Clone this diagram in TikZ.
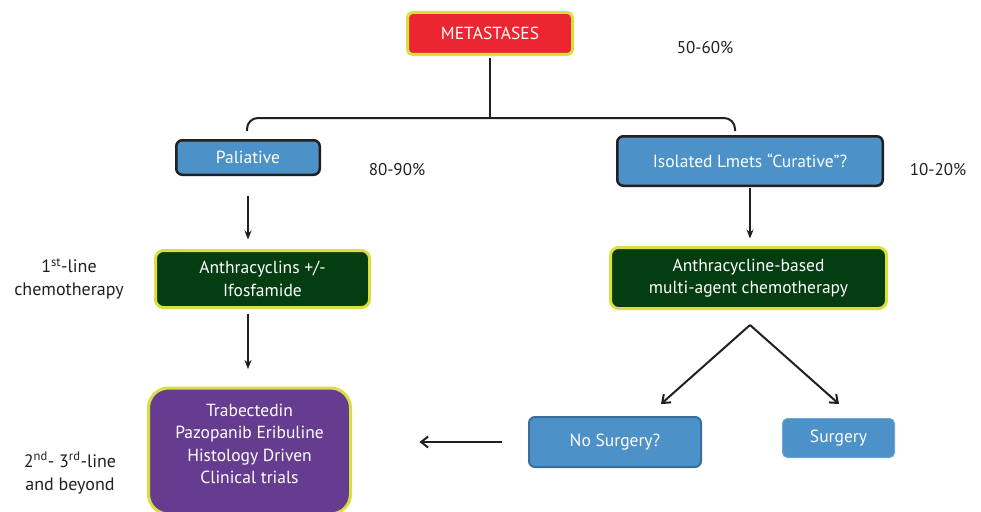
\documentclass[tikz,border=0pt]{standalone}
\usepackage{fontspec}
\setmainfont{PT Sans}
\usetikzlibrary{arrows.meta}

\definecolor{boxblue}{RGB}{76,145,200}
\definecolor{edgedark}{RGB}{35,31,32}
\definecolor{metred}{RGB}{236,38,48}
\definecolor{rimyellow}{RGB}{218,222,62}
\definecolor{chemogreen}{RGB}{3,61,16}
\definecolor{trialpurple}{RGB}{101,60,143}
\definecolor{nosurgedge}{RGB}{58,108,156}
\definecolor{surgedge}{RGB}{110,165,215}
\definecolor{labelgray}{RGB}{35,31,32}

\tikzset{
  boxtext/.style={text=white, align=center, font=\fontsize{17.5}{22.5}\selectfont},
  bluebox/.style={boxtext, fill=boxblue, draw=edgedark, line width=2.5pt, rounded corners=6pt},
  yellowrim/.style={boxtext, draw=rimyellow, line width=3pt, rounded corners=8pt},
  pct/.style={text=labelgray, font=\fontsize{17}{20}\selectfont},
  sidelabel/.style={text=labelgray, align=center, font=\fontsize{18}{23}\selectfont},
  conn/.style={draw=edgedark, line width=2pt},
  downarrow/.style={conn, -{Stealth[length=9pt, width=7pt]}},
  barbarrow/.style={conn, -{Straight Barb[length=7pt, width=11pt, line width=2pt]}}
}

\begin{document}
\begin{tikzpicture}[x=1pt, y=-1pt, inner sep=0pt, outer sep=0pt]
\useasboundingbox (0,0) rectangle (981,511);

% top of the tree
\node[yellowrim, fill=metred, minimum width=165pt, minimum height=42pt, rounded corners=5pt]
  (meta) at (490,33.5) {METASTASES};
\node[pct] (pmeta) at (705,48) {50-60\%};

% split into the two branches
\coordinate (brM) at (490,118);
\coordinate (brL) at (247,131);
\coordinate (brR) at (735,131);
\draw[conn, shorten <=3pt] (meta.south) -- (brM);
\draw[conn, rounded corners=11pt] (brL) |- (brM) -| (brR);

% palliative branch
\node[bluebox, minimum width=143.5pt, minimum height=34.5pt] (pal) at (248,157.5) {Paliative};
\node[pct] (ppal) at (397,170) {80-90\%};
\node[yellowrim, fill=chemogreen, minimum width=214pt, minimum height=57pt]
  (anth1) at (262.5,279) {Anthracyclins +/-\\Ifosfamide};
\node[yellowrim, fill=trialpurple, minimum width=202pt, minimum height=126pt, rounded corners=20pt,
  label={[boxtext, yshift=7pt]center:Trabectedin\\Pazopanib Eribuline\\Histology Driven\\Clinical trials}]
  (trials) at (249.5,451) {};

\draw[downarrow, shorten <=21pt, shorten >=11pt] (pal.south) -- (pal.south |- anth1.north);
\draw[downarrow, shorten <=6pt, shorten >=19pt] (anth1.south -| pal.south) -- (trials.north -| pal.south);

% curative branch
\node[bluebox, minimum width=265.5pt, minimum height=49.5pt] (iso) at (750,161)
  {Isolated Lmets “Curative”?};
\node[pct] (piso) at (938,170) {10-20\%};
\node[yellowrim, fill=chemogreen, minimum width=276pt, minimum height=61pt]
  (anth2) at (748.5,278) {Anthracycline-based\\multi-agent chemotherapy};
\draw[downarrow, shorten <=2pt, shorten >=9pt] (iso.south) -- (iso.south |- anth2.north);

\node[bluebox, draw=nosurgedge, line width=2pt, minimum width=172pt, minimum height=50pt]
  (nosurg) at (615,442) {No Surgery?};
\node[bluebox, draw=surgedge, line width=1pt, minimum width=112pt, minimum height=39pt, rounded corners=5pt]
  (surg) at (838.5,438) {Surgery};

\coordinate (fork) at (750,325);
\coordinate (nosurgin) at (661,404);
\coordinate (surgin) at (839,404);
\draw[barbarrow] (fork) -- (nosurgin);
\draw[barbarrow] (fork) -- (surgin);
\draw[barbarrow, shorten <=27pt, shorten >=69pt] (nosurg.west) -- (nosurg.west -| trials.east);

% treatment lines
\node[sidelabel] (firstline) at (69,279) {1\textsuperscript{st}-line\\chemotherapy};
\node[sidelabel] (laterline) at (70,473) {2\textsuperscript{nd}- 3\textsuperscript{rd}-line\\and beyond};
\end{tikzpicture}
\end{document}
